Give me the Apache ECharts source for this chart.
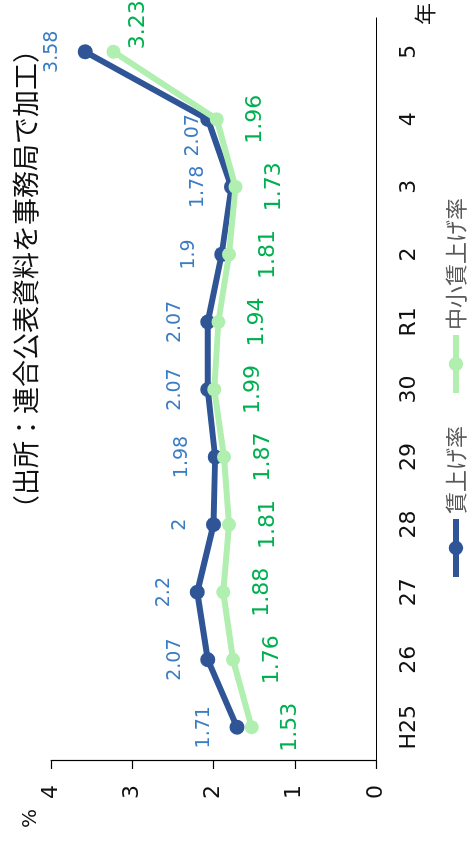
<!DOCTYPE html>
<html>
<head>
<meta charset="utf-8">
<script src="https://cdn.jsdelivr.net/npm/echarts@6/dist/echarts.min.js"></script>
<style>
html,body{margin:0;padding:0;width:468px;height:843px;overflow:hidden;background:#fff;}
#chart{position:absolute;left:0;top:0;width:843px;height:468px;transform-origin:0 0;transform:translate(0,843px) rotate(-90deg);}
</style>
</head>
<body>
<div id="chart"></div>
<script>
const categories = ['H25','26','27','28','29','30','R1','2','3','4','5'];
const wageRate = [1.71, 2.07, 2.2, 2, 1.98, 2.07, 2.07, 1.9, 1.78, 2.07, 3.58];
const smeWageRate = [1.53, 1.76, 1.88, 1.81, 1.87, 1.99, 1.94, 1.81, 1.73, 1.96, 3.23];
const seriesNames = ['賃上げ率', '中小賃上げ率'];
const titleText = '（出所：連合公表資料を事務局で加工）';

const NUM_FONT = '"DejaVu Sans", Verdana, sans-serif';
const CJK_FONT = '"Noto Sans CJK JP", "Noto Sans", sans-serif';

const chart = echarts.init(document.getElementById('chart'), null, {renderer: 'canvas'});

const blueData = wageRate.map((v, i) => i === 9 ? {value: v, label: {offset: [-16, 18]}} : v);
const greenData = smeWageRate.map((v, i) => i === 10 ? {value: v, label: {offset: [27, -14]}} : v);

chart.setOption({
  animation: false,
  backgroundColor: '#ffffff',
  title: {
    text: titleText,
    right: 31,
    top: 7,
    textStyle: {fontFamily: CJK_FONT, fontSize: 27, fontWeight: 'normal', color: '#111'}
  },
  legend: {
    data: seriesNames,
    left: 258,
    top: 440,
    itemWidth: 58,
    itemHeight: 18,
    itemGap: 30,
    lineStyle: {width: 6},
    textStyle: {fontFamily: CJK_FONT, fontSize: 22, color: '#595959'}
  },
  grid: {left: 82, right: 15, top: 51, bottom: 92, containLabel: false},
  xAxis: {
    type: 'category',
    data: categories,
    boundaryGap: true,
    name: '年',
    nameLocation: 'end',
    nameGap: -7,
    nameTextStyle: {fontFamily: CJK_FONT, fontSize: 22, color: '#111', verticalAlign: 'top', padding: [38, 0, 0, 0]},
    axisLine: {show: true, lineStyle: {color: '#000', width: 1.2}},
    axisTick: {show: false},
    axisLabel: {fontFamily: NUM_FONT, fontSize: 22, color: '#111', margin: 22}
  },
  yAxis: {
    type: 'value',
    min: 0,
    max: 4,
    interval: 1,
    name: '%',
    nameLocation: 'end',
    nameGap: 10,
    nameTextStyle: {fontFamily: NUM_FONT, fontSize: 20, color: '#111', align: 'right', padding: [0, 48, 0, 0]},
    axisLine: {show: true, lineStyle: {color: '#000', width: 1.2}},
    axisTick: {show: true, length: 8, lineStyle: {color: '#000', width: 1.2}},
    axisLabel: {fontFamily: NUM_FONT, fontSize: 22, color: '#111', margin: 24},
    splitLine: {show: false}
  },
  series: [
    {
      name: seriesNames[0],
      type: 'line',
      data: blueData,
      symbol: 'circle',
      symbolSize: 15,
      lineStyle: {color: '#2F5597', width: 6},
      itemStyle: {color: '#2F5597'},
      label: {show: true, position: 'top', distance: 16, fontFamily: NUM_FONT, fontSize: 19, color: '#3B7DC4'},
      z: 2
    },
    {
      name: seriesNames[1],
      type: 'line',
      data: greenData,
      symbol: 'circle',
      symbolSize: 14,
      lineStyle: {color: '#B0EFB0', width: 6},
      itemStyle: {color: '#B0EFB0'},
      label: {show: true, position: 'bottom', distance: 21, fontFamily: NUM_FONT, fontSize: 22, color: '#00B050'},
      z: 3
    }
  ]
});
</script>
</body>
</html>
